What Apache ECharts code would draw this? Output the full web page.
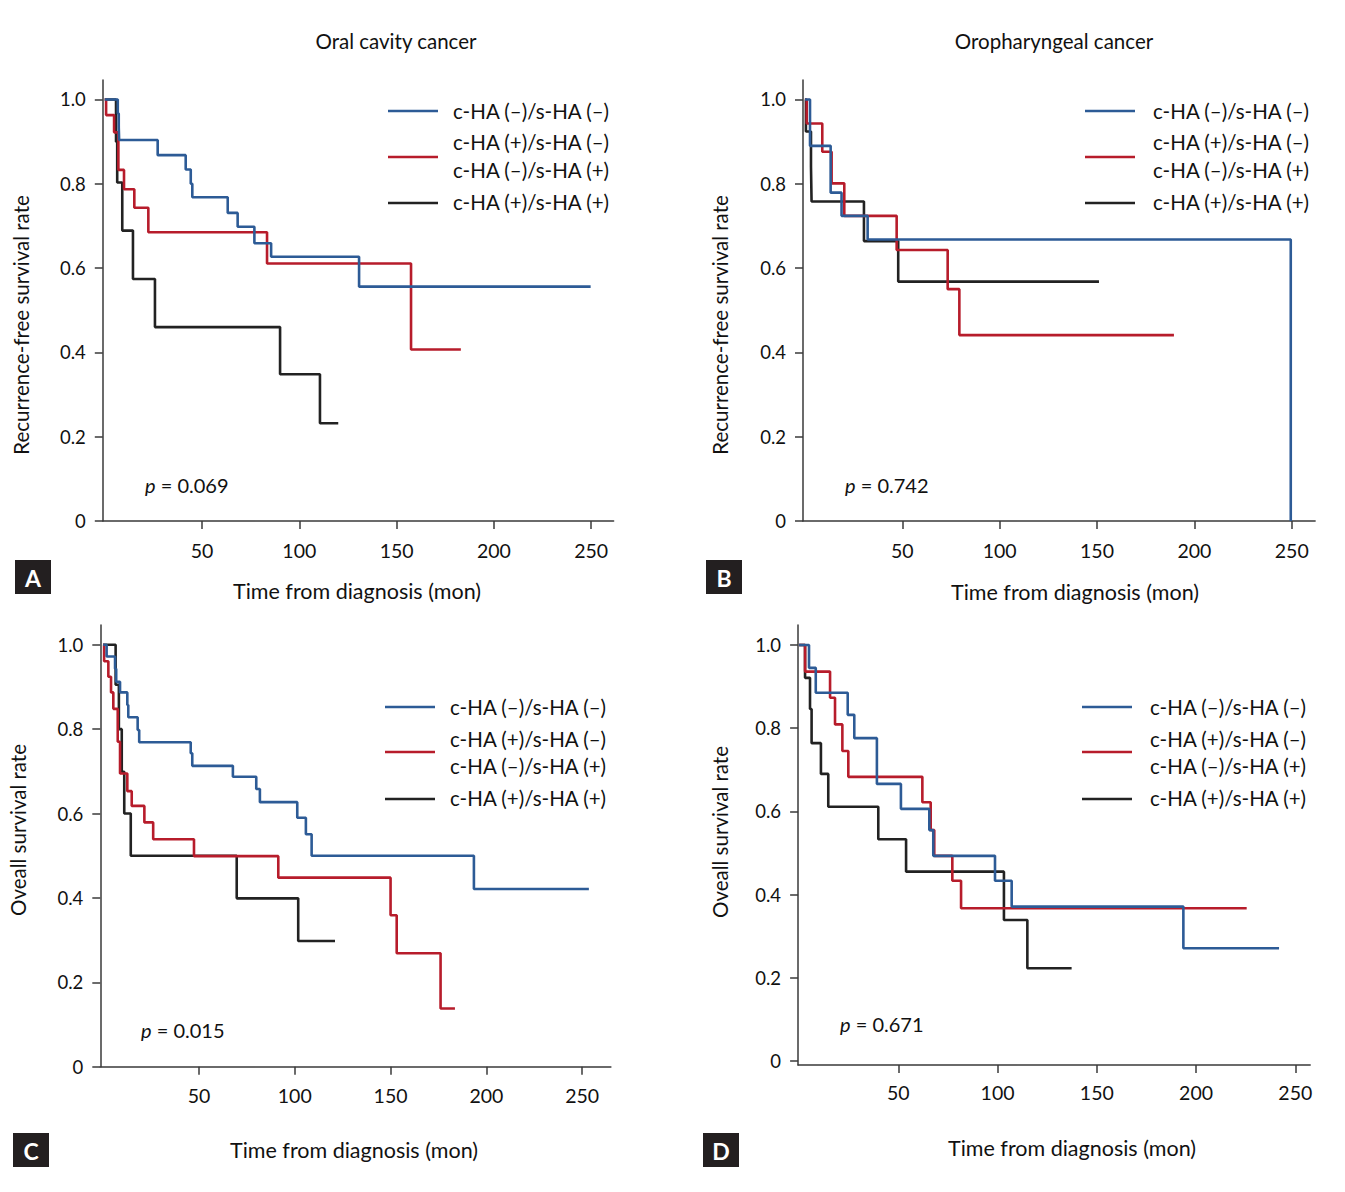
<!DOCTYPE html>
<html>
<head>
<meta charset="utf-8">
<script src="https://cdn.jsdelivr.net/npm/echarts@6/dist/echarts.min.js"></script>
<style>
html,body{margin:0;padding:0;background:#fff;}
#chart{width:1345px;height:1192px;}
</style>
</head>
<body>
<div id="chart"></div>
<script>
// ---------- DATA (time in months, survival rate) ----------
const panelTitles = ['Oral cavity cancer', 'Oropharyngeal cancer'];
const yTitles = ['Recurrence-free survival rate', 'Recurrence-free survival rate', 'Oveall survival rate', 'Oveall survival rate'];
const xTitle = 'Time from diagnosis (mon)';
const panelLetters = ['A', 'B', 'C', 'D'];
const pValues = ['0.069', '0.742', '0.015', '0.671'];
const legendLabels = ['c-HA (\u2013)/s-HA (\u2013)', 'c-HA (+)/s-HA (\u2013)', 'c-HA (\u2013)/s-HA (+)', 'c-HA (+)/s-HA (+)'];
const groupNames = ['c-HA (\u2013)/s-HA (\u2013)', 'c-HA (+)/s-HA (\u2013) or c-HA (\u2013)/s-HA (+)', 'c-HA (+)/s-HA (+)'];
const xTicks = [50, 100, 150, 200, 250];
const yTicks = [0, 0.2, 0.4, 0.6, 0.8, 1.0];

// Panel A: oral cavity, recurrence-free survival
const A_neg = [[0,1],[6.7,0.967],[7.2,0.935],[7.4,0.904],[27.2,0.868],[41.6,0.834],[44.2,0.8],[45,0.768],[63.2,0.731],[68.3,0.698],[76.9,0.659],[85.5,0.627],[130.7,0.556],[249.7,0.556]];
const A_mix = [[0,1],[0.7,0.963],[4.8,0.922],[7,0.833],[9.9,0.787],[15.2,0.743],[22.4,0.685],[83.4,0.611],[157.4,0.407],[183,0.407]];
const A_pos = [[0,1],[5.8,0.9],[6.4,0.803],[9,0.689],[14.5,0.574],[25.8,0.46],[90.1,0.348],[110.6,0.232],[120,0.232]];
// Panel B: oropharyngeal, recurrence-free survival
const B_neg = [[0,1],[2.6,0.89],[13.2,0.779],[18.8,0.724],[32.2,0.668],[249.5,0]];
const B_mix = [[0,1],[0.9,0.943],[8.9,0.876],[13.7,0.801],[20.2,0.724],[47.1,0.643],[73.3,0.55],[79.3,0.441],[189.5,0.441]];
const B_pos = [[0,1],[0.5,0.924],[3.1,0.841],[3.4,0.758],[30.3,0.664],[47.9,0.568],[151,0.568]];
// Panel C: oral cavity, overall survival
const C_neg = [[0,1],[1.8,0.972],[6.2,0.943],[6.8,0.912],[8.8,0.887],[12.6,0.857],[13.1,0.828],[18,0.798],[18.8,0.769],[45.7,0.743],[46.5,0.713],[67.7,0.687],[79.9,0.658],[81.8,0.627],[101.3,0.59],[105.8,0.551],[108.8,0.5],[193.5,0.421],[253.5,0.421]];
const C_mix = [[0,1],[0.5,0.961],[2.7,0.924],[4.1,0.887],[5.3,0.848],[7.6,0.77],[8.8,0.695],[12.6,0.653],[14.9,0.618],[21.5,0.579],[26.1,0.539],[47.4,0.499],[91.4,0.448],[150,0.359],[153.2,0.269],[176.1,0.138],[183.6,0.138]];
const C_pos = [[0,1],[6.5,0.905],[8.2,0.8],[9.7,0.699],[11,0.6],[14.4,0.5],[69.7,0.399],[101.8,0.298],[121,0.298]];
// Panel D: oropharyngeal, overall survival
const D_neg = [[0,1],[5,0.945],[8.4,0.885],[24.5,0.832],[27.8,0.776],[39.2,0.666],[51.3,0.606],[65.6,0.555],[67.6,0.493],[98.7,0.433],[107.1,0.371],[193.6,0.271],[241.8,0.271]];
const D_mix = [[0,1],[3,0.936],[15.6,0.873],[18.1,0.809],[21.8,0.745],[24.8,0.683],[62.1,0.622],[66.3,0.555],[68.1,0.493],[77.2,0.433],[81.6,0.367],[225.5,0.367]];
const D_pos = [[0,1],[3,0.921],[5.5,0.846],[6.3,0.764],[11,0.69],[14.7,0.611],[39.9,0.533],[53.9,0.455],[103.2,0.339],[115,0.223],[137.3,0.223]];

const panelData = [[A_neg, A_mix, A_pos], [B_neg, B_mix, B_pos], [C_neg, C_mix, C_pos], [D_neg, D_mix, D_pos]];

// ---------- LAYOUT / STYLE ----------
const FONT = 'Lato, "Noto Sans", sans-serif';
const colors = ['#2d5b96', '#b71c2b', '#222222'];
const axisColor = '#3a3a3a';
const grids = [
  {left: 102.8, top: 80.1, width: 510.8, height: 440.9, xmin: -1, xmax: 261.5, ymin: 0, ymax: 1.046},
  {left: 803.0, top: 80.1, width: 512.1, height: 440.9, xmin: -1, xmax: 262, ymin: 0, ymax: 1.046},
  {left: 100.3, top: 624.9, width: 510.6, height: 441.8, xmin: -1.5, xmax: 265, ymin: 0, ymax: 1.047},
  {left: 798.1, top: 625.0, width: 512.1, height: 440.1, xmin: -0.5, xmax: 257.5, ymin: -0.01, ymax: 1.048}
];
const titlePos = [[396, 41], [1054, 41]];
const yTitlePos = [[21, 325], [720, 325], [18, 830], [720, 832]];
const xTitlePos = [[357, 591], [1075, 592], [354, 1150], [1072, 1148]];
const letterBox = [[15, 560], [706, 560], [13, 1133], [703, 1133]];
const pPos = [[145, 485], [845, 485], [141, 1030], [840, 1024]];
const legendPos = [
  {lx: 388, tx: 453, lineY: [111, 157, 203], textY: [111, 142, 170, 202]},
  {lx: 1085, tx: 1153, lineY: [111, 157, 203], textY: [111, 142, 170, 202]},
  {lx: 385, tx: 450, lineY: [707, 752, 799], textY: [707, 739, 766, 798]},
  {lx: 1082, tx: 1150, lineY: [707, 752, 799], textY: [707, 739, 766, 798]}
];
const xLabelMargin = [19, 19, 19, 17];

const option = {
  backgroundColor: '#fff',
  animation: false,
  grid: [], xAxis: [], yAxis: [], series: [], graphic: []
};

grids.forEach((g, i) => {
  option.grid.push({left: g.left, top: g.top, width: g.width, height: g.height, containLabel: false});
  option.xAxis.push({
    type: 'value', gridIndex: i, min: g.xmin, max: g.xmax,
    axisLine: {show: true, onZero: false, lineStyle: {color: axisColor, width: 1.5}},
    axisTick: {show: true, customValues: xTicks, length: 8, lineStyle: {color: axisColor, width: 1.5}},
    axisLabel: {customValues: xTicks, margin: xLabelMargin[i], color: '#111', fontSize: 19.5, fontFamily: FONT},
    splitLine: {show: false}
  });
  option.yAxis.push({
    type: 'value', gridIndex: i, min: g.ymin, max: g.ymax,
    axisLine: {show: true, onZero: false, lineStyle: {color: axisColor, width: 1.5}},
    axisTick: {show: true, customValues: yTicks, length: 8, lineStyle: {color: axisColor, width: 1.5}},
    axisLabel: {customValues: yTicks, margin: 17, color: '#111', fontSize: 18.5, fontFamily: FONT,
      formatter: v => (Math.abs(v) < 1e-9 ? '0' : v.toFixed(1))},
    splitLine: {show: false}
  });
  panelData[i].forEach((d, k) => {
    option.series.push({
      type: 'line', name: groupNames[k], xAxisIndex: i, yAxisIndex: i, data: d,
      step: 'end', showSymbol: false, symbol: 'none', silent: true,
      lineStyle: {color: colors[k], width: 2.6}, z: 3 - k
    });
  });
});

const G = option.graphic;
panelTitles.forEach((t, i) => {
  G.push({type: 'text', x: titlePos[i][0], y: titlePos[i][1],
    style: {text: t, font: '20.5px ' + FONT, fill: '#111', textAlign: 'center', textVerticalAlign: 'middle', align: 'center', verticalAlign: 'middle'}});
});
for (let i = 0; i < 4; i++) {
  G.push({type: 'text', x: yTitlePos[i][0], y: yTitlePos[i][1], rotation: Math.PI / 2,
    style: {text: yTitles[i], font: '20.5px ' + FONT, fill: '#111', textAlign: 'center', textVerticalAlign: 'middle', align: 'center', verticalAlign: 'middle'}});
  G.push({type: 'text', x: xTitlePos[i][0], y: xTitlePos[i][1],
    style: {text: xTitle, font: '21.5px ' + FONT, fill: '#111', textAlign: 'center', textVerticalAlign: 'middle', align: 'center', verticalAlign: 'middle'}});
  G.push({type: 'rect', shape: {x: letterBox[i][0], y: letterBox[i][1], width: 36, height: 34}, style: {fill: '#231f20'}});
  G.push({type: 'text', x: letterBox[i][0] + 18, y: letterBox[i][1] + 18,
    style: {text: panelLetters[i], font: 'bold 23px ' + FONT, fill: '#fff', textAlign: 'center', textVerticalAlign: 'middle', align: 'center', verticalAlign: 'middle'}});
  G.push({type: 'text', x: pPos[i][0], y: pPos[i][1],
    style: {text: '{i|p} = ' + pValues[i], font: '20px ' + FONT, fill: '#111', textVerticalAlign: 'middle', verticalAlign: 'middle',
      rich: {i: {fontStyle: 'italic', fontSize: 20, fontFamily: FONT, fill: '#111'}}}});
  const L = legendPos[i];
  for (let k = 0; k < 3; k++) {
    G.push({type: 'line', shape: {x1: L.lx, y1: L.lineY[k], x2: L.lx + 50, y2: L.lineY[k]},
      style: {stroke: colors[k], lineWidth: 2.6}});
  }
  for (let k = 0; k < 4; k++) {
    G.push({type: 'text', x: L.tx, y: L.textY[k],
      style: {text: legendLabels[k], font: '20.5px ' + FONT, fill: '#111', textVerticalAlign: 'middle', verticalAlign: 'middle'}});
  }
}

const chart = echarts.init(document.getElementById('chart'), null, {renderer: 'svg'});
chart.setOption(option);
</script>
</body>
</html>
